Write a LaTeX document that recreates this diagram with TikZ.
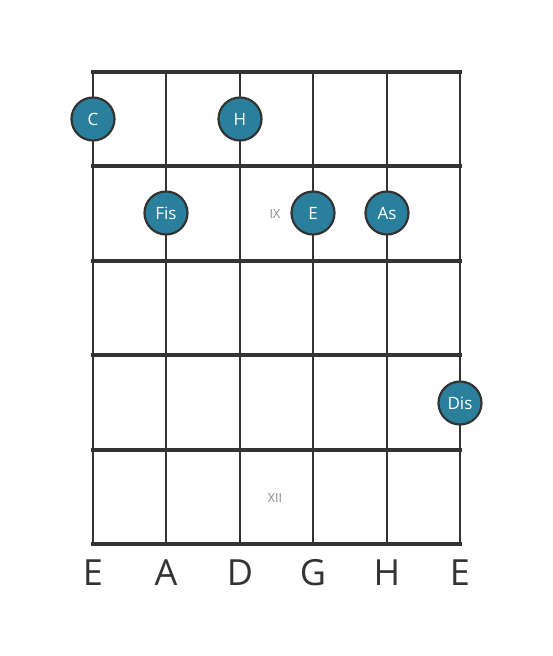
\documentclass[tikz,border=0pt]{standalone}
\usepackage{fontspec}
\setmainfont{Open Sans}
\definecolor{dotfill}{HTML}{2A7F9C}
\definecolor{gridc}{HTML}{333333}
\definecolor{markc}{HTML}{888888}
\begin{document}
\begin{tikzpicture}[x=1pt,y=-1pt,
  fret/.style={draw=gridc,line width=4.2pt},
  strg/.style={draw=gridc,line width=2.8pt},
  notedot/.style={circle,fill=dotfill,draw=gridc,line width=2.2pt,minimum size=43pt,inner sep=0pt,text=white,font=\fontsize{17}{17}\selectfont},
  fretmark/.style={text=markc,font=\fontsize{12.5}{12.5}\selectfont},
  strlabel/.style={text=gridc,font=\fontsize{36}{36}\selectfont}]
\useasboundingbox (0,0) rectangle (553,656);
\foreach \x/\n in {93/s1,166/s2,240/s3,313/s4,387/s5,460/s6}{
  \coordinate (\n t) at (\x,72);
  \coordinate (\n b) at (\x,544);
  \draw[strg] (\n t) -- (\n b);
}
\foreach \y/\n in {72/f0,166/f1,261/f2,355/f3,450/f4,544/f5}{
  \coordinate (\n l) at (93,\y);
  \coordinate (\n r) at (460,\y);
  \draw[fret,line cap=rect] (\n l) -- (\n r);
}
\node[fretmark] (ix) at (275,214) {IX};
\node[fretmark] (xii) at (275,498) {XII};
\node[notedot] (c) at (93,119) {C};
\node[notedot] (h) at (240,119) {H};
\node[notedot] (fis) at (166,213) {Fis};
\node[notedot] (e) at (313,213) {E};
\node[notedot] (as) at (387,213) {As};
\node[notedot] (dis) at (460,403) {Dis};
\foreach \x/\t/\n in {93/E/l1,166/A/l2,240/D/l3,313/G/l4,387/H/l5,460/E/l6}{
  \node[strlabel] (\n) at (\x,573) {\t};
}
\end{tikzpicture}
\end{document}
